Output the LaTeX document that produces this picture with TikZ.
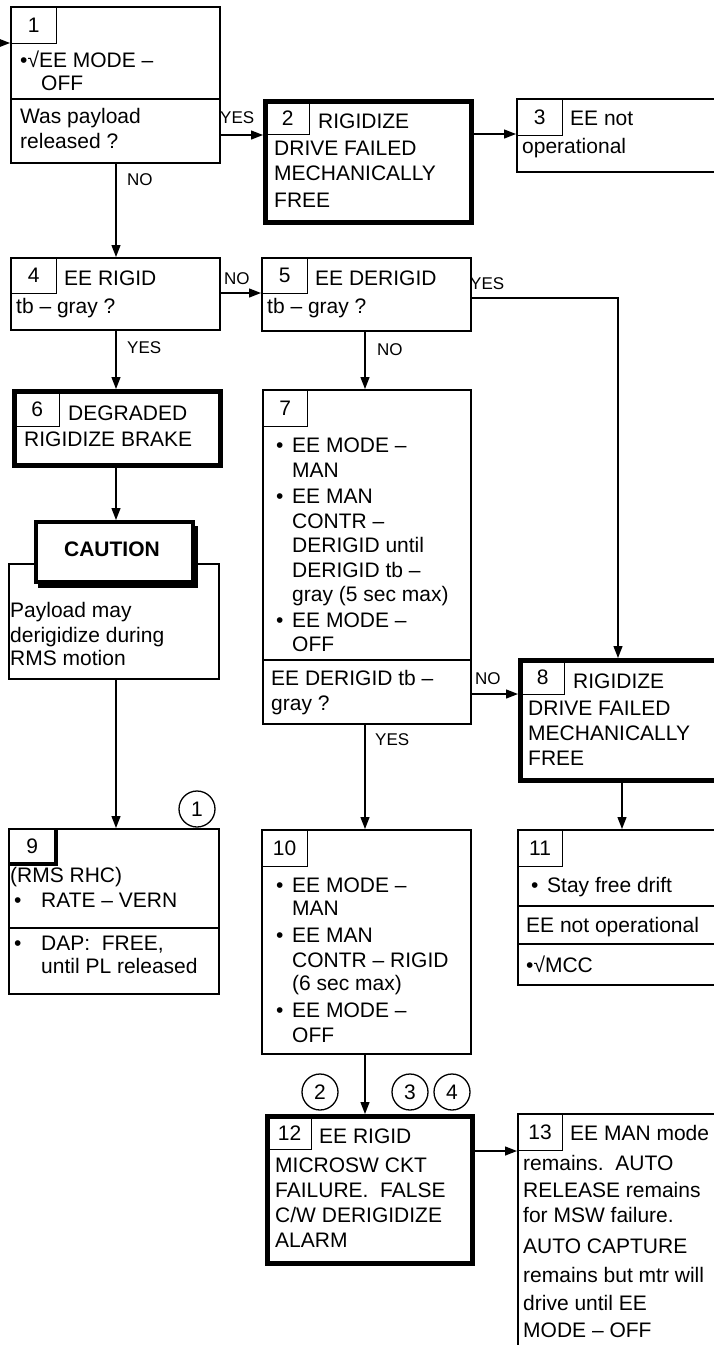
\documentclass[tikz,border=0pt]{standalone}
\usepackage{fontspec}
\setmainfont{Liberation Sans}
\usetikzlibrary{arrows.meta}
\newcommand\fmain{\fontsize{21}{24.5}\selectfont}
\newcommand\flab{\fontsize{17}{20}\selectfont}
\newcommand\mytxt[4]{\node[txt] (#1) at (#2,#3) {#4};}
\newcommand\mylbl[4]{\node[lbl] (#1) at (#2,#3) {#4};}
\tikzset{
  box/.style={draw, rectangle, line width=1.7pt, inner sep=0pt, anchor=north west, fill=white},
  tbox/.style={draw, rectangle, line width=4.5pt, inner sep=0pt, anchor=north west, fill=white},
  numbox/.style={draw, rectangle, line width=1.2pt, inner sep=0pt, anchor=north west, font=\fmain},
  txt/.style={anchor=base west, inner sep=0pt, font=\fmain},
  lbl/.style={anchor=base west, inner sep=0pt, font=\flab},
  conn/.style={line width=1.3pt, -{Triangle[length=12pt,width=9pt]}},
  callout/.style={circle, draw, line width=1.3pt, minimum size=36pt, inner sep=0pt, font=\fmain},
  divider/.style={line width=1.7pt}
}
\begin{document}
\begin{tikzpicture}[x=1pt,y=-1pt]
\useasboundingbox (0,0) rectangle (714,1345);
\clip (0,0) rectangle (714,1345);
\fill[white] (0,0) rectangle (714,1345);

% ---------- boxes ----------
\node[box, minimum width=209pt, minimum height=156pt] (b1) at (10,6) {};
\node[tbox, minimum width=206pt, minimum height=121pt] (b2) at (263,99) {};
\node[box, minimum width=214pt, minimum height=73pt] (b3) at (516,98) {};
\node[box, minimum width=209pt, minimum height=72pt] (b4) at (10,257) {};
\node[box, minimum width=209pt, minimum height=73pt] (b5) at (261,257) {};
\node[tbox, minimum width=206pt, minimum height=74pt] (b6) at (12,389) {};
\node[box, minimum width=208pt, minimum height=334pt] (b7) at (262,389) {};
\node[tbox, minimum width=212pt, minimum height=120pt] (b8) at (518,658) {};
\node[box, minimum width=210pt, minimum height=165pt] (b9) at (8,828) {};
\node[box, minimum width=209pt, minimum height=224pt] (b10) at (261,829) {};
\node[box, minimum width=213pt, minimum height=155pt] (b11) at (517,829) {};
\node[tbox, minimum width=205pt, minimum height=147pt] (b12) at (265,1114) {};
\node[box, minimum width=213pt, minimum height=267pt] (b13) at (517,1113) {};
% caution
\node[box, minimum width=210pt, minimum height=115pt] (cbody) at (8,563) {};
\node[fill=black, draw=none, inner sep=0pt, anchor=north west, minimum width=160pt, minimum height=62pt] (cshadow) at (38,526) {};
\node[draw, fill=white, line width=4pt, inner sep=0pt, anchor=north west, minimum width=157pt, minimum height=60pt] (chead) at (34,520) {};

% ---------- dividers ----------
\draw[divider] (b1.west |- 0,99) -- (b1.east |- 0,99);
\draw[divider] (b7.west |- 0,660) -- (b7.east |- 0,660);
\draw[divider] (b9.west |- 0,928) -- (b9.east |- 0,928);
\draw[divider] (b11.west |- 0,906) -- (b11.east |- 0,906);
\draw[divider] (b11.west |- 0,944) -- (b11.east |- 0,944);

% ---------- number boxes ----------
\node[numbox, minimum width=46pt, minimum height=37pt] (n1) at (10,6) {1};
\node[numbox, minimum width=44pt, minimum height=33pt] (n2) at (265,101) {2};
\node[numbox, minimum width=46pt, minimum height=37pt] (n3) at (516,98) {3};
\node[numbox, minimum width=46pt, minimum height=36pt] (n4) at (10,257) {4};
\node[numbox, minimum width=46pt, minimum height=36pt] (n5) at (261,257) {5};
\node[numbox, minimum width=45pt, minimum height=35pt] (n6) at (14,391) {6};
\node[numbox, minimum width=45pt, minimum height=37pt] (n7) at (262,389) {7};
\node[numbox, minimum width=44pt, minimum height=34pt] (n8) at (520,660) {8};
\node[numbox, minimum width=47pt, minimum height=35pt] (n9) at (8,828) {9};
\draw[line width=3.5pt] (n9.north east) -- (n9.south east) -- (n9.south west);
\node[numbox, minimum width=46pt, minimum height=37pt] (n10) at (261,829) {10};
\node[numbox, minimum width=45pt, minimum height=37pt] (n11) at (517,829) {11};
\node[numbox, minimum width=44pt, minimum height=33pt] (n12) at (267,1116) {12};
\node[numbox, minimum width=45pt, minimum height=37pt] (n13) at (517,1113) {13};

% ---------- callouts ----------
\node[callout] (c1) at (197,809) {1};
\node[callout] (c2) at (320,1092) {2};
\node[callout] (c3) at (410,1092) {3};
\node[callout] (c4) at (452,1092) {4};

% ---------- texts ----------
\mytxt{t1a}{20}{67}{•√EE MODE –}
\mytxt{t1b}{41}{90}{OFF}
\mytxt{t1c}{20}{123}{Was payload}
\mytxt{t1d}{20}{148}{released ?}

\mytxt{t2a}{318}{128}{RIGIDIZE}
\mytxt{t2b}{274}{155}{DRIVE FAILED}
\mytxt{t2c}{274}{180}{MECHANICALLY}
\mytxt{t2d}{274}{207}{FREE}

\mytxt{t3a}{570}{125}{EE not}
\mytxt{t3b}{522}{153}{operational}

\mytxt{t4a}{64}{285}{EE RIGID}
\mytxt{t4b}{16}{313}{tb – gray ?}

\mytxt{t5a}{315}{285}{EE DERIGID}
\mytxt{t5b}{267}{313}{tb – gray ?}

\mytxt{t6a}{68}{420}{DEGRADED}
\mytxt{t6b}{24}{446}{RIGIDIZE BRAKE}

\node[font=\fmain\bfseries, anchor=base, inner sep=0pt] (tc) at (112,556) {CAUTION};
\mytxt{tca}{10}{617}{Payload may}
\mytxt{tcb}{10}{642}{derigidize during}
\mytxt{tcc}{10}{665}{RMS motion}

\mytxt{t9a}{10}{882}{(RMS RHC)}
\mytxt{t9b}{14}{907}{•}
\mytxt{t9c}{41}{907}{RATE – VERN}
\mytxt{t9d}{14}{950}{•}
\mytxt{t9e}{41}{950}{DAP:\ \ FREE,}
\mytxt{t9f}{41}{973}{until PL released}

\mytxt{t7a}{276}{452}{•}
\mytxt{t7b}{292}{452}{EE MODE –}
\mytxt{t7c}{292}{477}{MAN}
\mytxt{t7d}{276}{503}{•}
\mytxt{t7e}{292}{503}{EE MAN}
\mytxt{t7f}{292}{528}{CONTR –}
\mytxt{t7g}{292}{552}{DERIGID until}
\mytxt{t7h}{292}{577}{DERIGID tb –}
\mytxt{t7i}{292}{601}{gray (5 sec max)}
\mytxt{t7j}{276}{627}{•}
\mytxt{t7k}{292}{627}{EE MODE –}
\mytxt{t7l}{292}{651}{OFF}
\mytxt{t7m}{271}{685}{EE DERIGID tb –}
\mytxt{t7n}{271}{710}{gray ?}

\mytxt{t8a}{573}{688}{RIGIDIZE}
\mytxt{t8b}{528}{715}{DRIVE FAILED}
\mytxt{t8c}{528}{740}{MECHANICALLY}
\mytxt{t8d}{528}{765}{FREE}

\mytxt{t10a}{276}{892}{•}
\mytxt{t10b}{292}{892}{EE MODE –}
\mytxt{t10c}{292}{915}{MAN}
\mytxt{t10d}{276}{942}{•}
\mytxt{t10e}{292}{942}{EE MAN}
\mytxt{t10f}{292}{967}{CONTR – RIGID}
\mytxt{t10g}{292}{990}{(6 sec max)}
\mytxt{t10h}{276}{1017}{•}
\mytxt{t10i}{292}{1017}{EE MODE –}
\mytxt{t10j}{292}{1042}{OFF}

\mytxt{t11a}{531}{892}{•}
\mytxt{t11b}{547}{892}{Stay free drift}
\mytxt{t11c}{526}{932}{EE not operational}
\mytxt{t11d}{526}{972}{•√MCC}

\mytxt{t12a}{319}{1143}{EE RIGID}
\mytxt{t12b}{275}{1172}{MICROSW CKT}
\mytxt{t12c}{275}{1197}{FAILURE.\ \ FALSE}
\mytxt{t12d}{275}{1222}{C/W DERIGIDIZE}
\mytxt{t12e}{275}{1247}{ALARM}

\mytxt{t13a}{570}{1140}{EE MAN mode}
\mytxt{t13b}{523}{1170}{remains.\ \ AUTO}
\mytxt{t13c}{523}{1197}{RELEASE remains}
\mytxt{t13d}{523}{1222}{for MSW failure.}
\mytxt{t13e}{523}{1253}{AUTO CAPTURE}
\mytxt{t13f}{523}{1282}{remains but mtr will}
\mytxt{t13g}{523}{1310}{drive until EE}
\mytxt{t13h}{523}{1337}{MODE – OFF}

% ---------- connector labels ----------
\mylbl{l1}{220}{123}{YES}
\mylbl{l2}{127}{185}{NO}
\mylbl{l3}{224}{284}{NO}
\mylbl{l4}{127}{353}{YES}
\mylbl{l5}{470}{289}{YES}
\mylbl{l6}{377}{355}{NO}
\mylbl{l7}{475}{684}{NO}
\mylbl{l8}{375}{745}{YES}

% ---------- connectors ----------
\coordinate (in) at (0,43);
\coordinate (cA) at (116,0);
\coordinate (cB) at (365,0);
\coordinate (cC) at (618,0);
\coordinate (cD) at (622,0);
\coordinate (r1) at (0,135);
\coordinate (r2) at (0,134);
\coordinate (r4) at (0,293);
\coordinate (r5) at (0,298);
\coordinate (r7) at (0,694);
\coordinate (r12) at (0,1151);

\draw[conn] (in) -- (b1.west |- in);
\draw[conn] (b1.east |- r1) -- (b2.west |- r1);
\draw[conn] (b2.east |- r2) -- (b3.west |- r2);
\draw[conn] (cA |- b1.south) -- (cA |- b4.north);
\draw[conn] (b4.east |- r4) -- (b5.west |- r4);
\draw[conn] (cA |- b4.south) -- (cA |- b6.north);
\draw[conn] (cA |- b6.south) -- (cA |- chead.north);
\draw[conn] (cA |- cbody.south) -- (cA |- b9.north);
\draw[conn] (b5.east |- r5) -- (cC |- r5) -- (cC |- b8.north);
\draw[conn] (cB |- b5.south) -- (cB |- b7.north);
\draw[conn] (b7.east |- r7) -- (b8.west |- r7);
\draw[conn] (cB |- b7.south) -- (cB |- b10.north);
\draw[conn] (cD |- b8.south) -- (cD |- b11.north);
\draw[conn] (cB |- b10.south) -- (cB |- b12.north);
\draw[conn] (b12.east |- r12) -- (b13.west |- r12);
\end{tikzpicture}
\end{document}
